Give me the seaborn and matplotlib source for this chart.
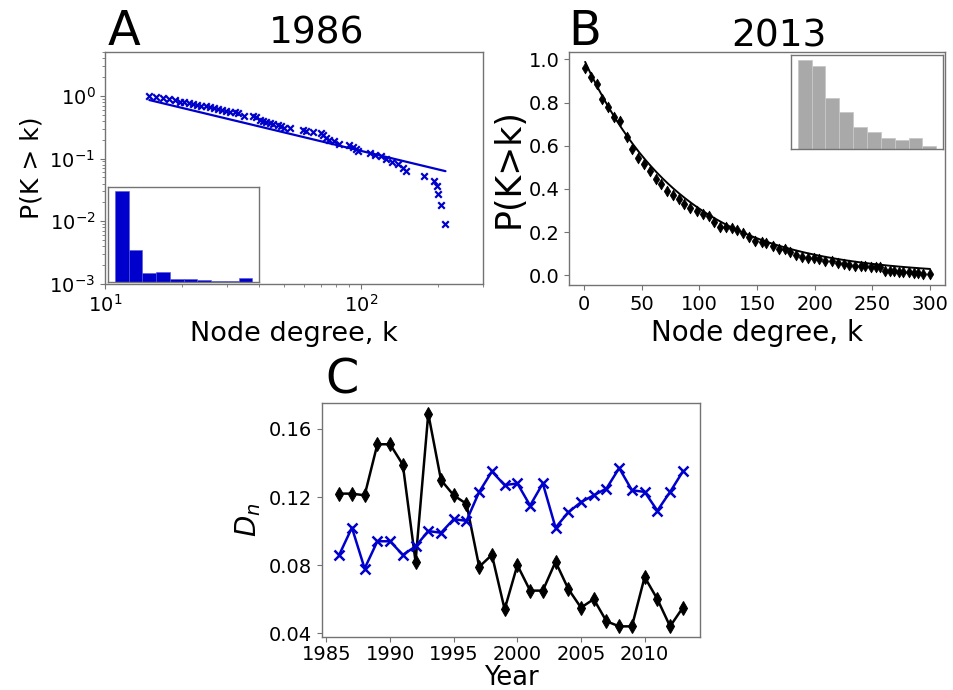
import numpy as np
import pandas as pd
import matplotlib
matplotlib.use("Agg")
import matplotlib.pyplot as plt
from matplotlib.ticker import LogLocator, NullFormatter
import seaborn as sns

sns.set_style("ticks")
plt.rcParams['font.family'] = ['DejaVu Sans']
plt.rcParams['text.color'] = 'black'
plt.rcParams['axes.labelcolor'] = 'black'
plt.rcParams['xtick.color'] = 'black'
plt.rcParams['ytick.color'] = 'black'

BLUE = "#0000CC"
SPINE = "0.45"

# ---- 1986: degree CCDF (log-log) ----
deg_1986 = [14.9, 15.8, 16.8, 17.8, 18.7, 19.6, 20.4, 21.2, 22.1, 22.9, 23.8, 24.8,
            25.7, 26.6, 27.7, 28.7, 29.8, 30.9, 32.1, 33.0, 34.8, 37.9, 39.0, 40.2,
            41.4, 42.7, 44.0, 45.3, 47.3, 48.8, 50.2, 52.6, 59.3, 61.0, 64.8, 69.9,
            71.0, 73.0, 75.3, 78.8, 82.4, 90.1, 92.9, 95.7, 97.0, 109, 114, 119.6,
            125, 132.7, 140, 146, 149.7, 176.5, 193, 199, 201, 205, 214]
ccdf_1986 = [1.0, 0.976, 0.94, 0.896, 0.844, 0.81, 0.79, 0.766, 0.748, 0.72, 0.70, 0.68,
             0.66, 0.63, 0.616, 0.594, 0.58, 0.56, 0.545, 0.53, 0.48, 0.47, 0.455, 0.418,
             0.39, 0.38, 0.37, 0.36, 0.345, 0.33, 0.31, 0.305, 0.29, 0.28, 0.27, 0.257,
             0.234, 0.215, 0.197, 0.188, 0.172, 0.163, 0.155, 0.144, 0.13, 0.122, 0.116, 0.108,
             0.098, 0.089, 0.082, 0.072, 0.064, 0.053, 0.044, 0.036, 0.027, 0.018, 0.0089]
# power-law fit P = C * k^(-alpha)
fit_1986_C = 12.1
fit_1986_alpha = 0.98
# degree histogram (inset)
hist_1986 = [265, 94, 24, 27, 7, 7, 5, 1, 1, 10]

# ---- 2013: degree CCDF (linear) ----
deg_2013 = [1, 6, 11, 16, 21, 26, 31, 37, 42, 47, 52, 57, 62, 67, 72, 77, 82, 87, 92, 98,
            103, 108, 113, 118, 123, 128, 133, 138, 143, 148, 154, 158, 164, 169, 174, 179,
            184, 189, 194, 199, 204, 209, 215, 220, 225, 230, 235, 240, 244, 249, 253, 257,
            261, 265, 269, 273, 277, 282, 286, 290, 294, 300]
ccdf_2013 = [0.961, 0.918, 0.886, 0.815, 0.777, 0.733, 0.713, 0.641, 0.586, 0.541, 0.515,
             0.484, 0.448, 0.425, 0.388, 0.371, 0.353, 0.330, 0.310, 0.299, 0.282, 0.274,
             0.248, 0.225, 0.222, 0.220, 0.210, 0.194, 0.176, 0.160, 0.156, 0.148, 0.136,
             0.123, 0.120, 0.109, 0.096, 0.083, 0.080, 0.080, 0.074, 0.068, 0.065, 0.059,
             0.052, 0.048, 0.043, 0.042, 0.041, 0.040, 0.039, 0.038, 0.022, 0.019, 0.018,
             0.016, 0.015, 0.013, 0.012, 0.010, 0.008, 0.005]
# exponential fit P = A * exp(-k / tau)
fit_2013_A = 1.0
fit_2013_tau = 85.0
hist_2013 = [267, 249, 152, 109, 65, 51, 31, 27, 32, 7]

# ---- D_n by year ----
years = list(range(1986, 2014))
dn_black = [0.122, 0.122, 0.121, 0.151, 0.151, 0.139, 0.082, 0.169, 0.130, 0.121,
            0.116, 0.079, 0.086, 0.054, 0.080, 0.065, 0.065, 0.082, 0.066, 0.055,
            0.060, 0.047, 0.044, 0.044, 0.073, 0.060, 0.044, 0.055]
dn_blue = [0.086, 0.102, 0.078, 0.094, 0.094, 0.086, 0.091, 0.100, 0.099, 0.107,
           0.106, 0.123, 0.135, 0.127, 0.128, 0.115, 0.128, 0.102, 0.111, 0.117,
           0.121, 0.125, 0.137, 0.124, 0.123, 0.112, 0.123, 0.135]

W, H = 954, 690
fig = plt.figure(figsize=(W / 100, H / 100), dpi=100)


def px_axes(x0, y0, x1, y1):
    return fig.add_axes([x0 / W, 1 - y1 / H, (x1 - x0) / W, (y1 - y0) / H])


def style_spines(ax):
    for s in ax.spines.values():
        s.set_visible(True)
        s.set_color(SPINE)
        s.set_linewidth(1.0)
    ax.tick_params(labelcolor="black", labelsize=14, direction="out", color=SPINE)


# ---------------- Panel A ----------------
axA = px_axes(105, 52, 483, 284)
sns.scatterplot(x=deg_1986, y=ccdf_1986, marker="x", color=BLUE, s=22,
                linewidth=1.6, ax=axA, zorder=3)
kfit = np.array([min(deg_1986), max(deg_1986)])
axA.plot(kfit, fit_1986_C * kfit ** (-fit_1986_alpha), color=BLUE, lw=1.6)
axA.set_xscale("log")
axA.set_yscale("log")
axA.set_xlim(10, 300)
axA.set_ylim(1e-3, 5)
axA.yaxis.set_major_locator(LogLocator(base=10, numticks=10))
axA.yaxis.set_minor_locator(LogLocator(base=10, subs=np.arange(2, 10), numticks=10))
axA.yaxis.set_minor_formatter(NullFormatter())
axA.xaxis.set_minor_formatter(NullFormatter())
style_spines(axA)
axA.tick_params(which="minor", color=SPINE, length=2.5)
axA.set_xlabel("Node degree, k", fontsize=19.5)
axA.set_ylabel("P(K > k)", fontsize=18)

insA = axA.inset_axes([0.008, 0.01, 0.40, 0.41])
insA.bar(np.arange(len(hist_1986)), hist_1986, width=1.0, color=BLUE,
         edgecolor="#5555dd", linewidth=0.4)
insA.set_xticks([])
insA.set_yticks([])
for s in insA.spines.values():
    s.set_color(SPINE)
    s.set_linewidth(1.0)

# ---------------- Panel B ----------------
axB = px_axes(569, 52, 945, 285)
sns.scatterplot(x=deg_2013, y=ccdf_2013, marker="d", color="black", s=30,
                edgecolor="black", linewidth=0.5, ax=axB, zorder=3)
kline = np.linspace(min(deg_2013), max(deg_2013), 300)
axB.plot(kline, fit_2013_A * np.exp(-kline / fit_2013_tau), color="black", lw=1.4)
axB.set_xticks([0, 50, 100, 150, 200, 250, 300])
axB.set_yticks([0.0, 0.2, 0.4, 0.6, 0.8, 1.0])
axB.set_xlim(-13, 313)
axB.set_ylim(-0.045, 1.034)
style_spines(axB)
axB.set_xlabel("Node degree, k", fontsize=20)
axB.set_ylabel("P(K>k)", fontsize=25, labelpad=2)

insB = axB.inset_axes([0.59, 0.585, 0.405, 0.40])
insB.bar(np.arange(len(hist_2013)), hist_2013, width=1.0, color="#a9a9a9",
         edgecolor="#c8c8c8", linewidth=0.6)
insB.set_xticks([])
insB.set_yticks([])
for s in insB.spines.values():
    s.set_color(SPINE)
    s.set_linewidth(1.0)

# ---------------- Panel C ----------------
axC = px_axes(322, 403, 700, 637)
df = pd.DataFrame({"Year": years, "black": dn_black, "blue": dn_blue})
sns.lineplot(data=df, x="Year", y="black", color="black", marker="d",
             markersize=7, markeredgecolor="black", lw=1.8, ax=axC)
sns.lineplot(data=df, x="Year", y="blue", color=BLUE, marker="x",
             markersize=7, markeredgewidth=1.8, markeredgecolor=BLUE, lw=1.8, ax=axC)
axC.set_xticks([1985, 1990, 1995, 2000, 2005, 2010])
axC.set_yticks([0.04, 0.08, 0.12, 0.16])
axC.set_yticklabels(["0.04", "0.08", "0.12", "0.16"])
style_spines(axC)
axC.tick_params(axis="x", pad=2)
axC.set_xlabel("Year", fontsize=18.5, labelpad=1)
axC.set_ylabel("$D_n$", fontsize=20)

# panel letters and titles
fig.text(108 / W, 1 - 45 / H, "A", fontsize=34.5, ha="left", va="baseline")
fig.text(568 / W, 1 - 45 / H, "B", fontsize=34.5, ha="left", va="baseline")
fig.text(325 / W, 1 - 393 / H, "C", fontsize=34.5, ha="left", va="baseline")
fig.text(317 / W, 1 - 43.5 / H, "1986", fontsize=27, ha="center", va="baseline")
fig.text(779 / W, 1 - 46.5 / H, "2013", fontsize=27, ha="center", va="baseline")

fig.savefig("out.png", dpi=100)
